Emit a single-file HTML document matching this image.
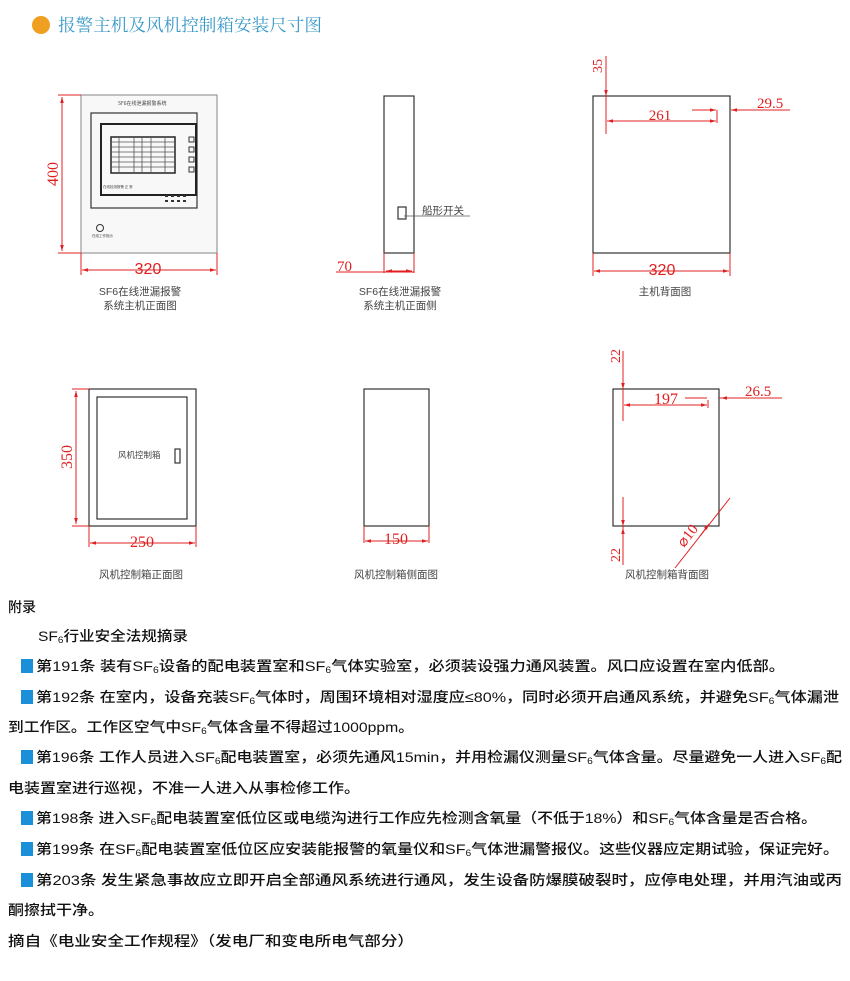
<!DOCTYPE html>
<html><head><meta charset="utf-8"><style>
html,body{margin:0;padding:0;background:#fff;width:850px;height:981px;overflow:hidden}
svg{display:block}
.t{font-family:"Liberation Sans Narrow","Liberation Sans","Noto Sans CJK SC",sans-serif;font-size:14px;fill:#111;font-weight:500}
.c{font-family:"Liberation Sans","Noto Sans CJK SC",sans-serif;font-size:10.5px;fill:#444}
.r{font-family:"Liberation Serif","Noto Serif CJK SC",serif;font-size:15px;fill:#e02020}
</style></head><body>
<svg width="850" height="981" viewBox="0 0 850 981" xmlns="http://www.w3.org/2000/svg">
<defs>
<marker id="a" viewBox="0 0 10 10" refX="10" refY="5" markerWidth="8" markerHeight="6" orient="auto-start-reverse"><path d="M0,2 L10,5 L0,8z" fill="#e02020"/></marker>
</defs>
<circle cx="41" cy="25" r="9" fill="#f0a020"/>
<text x="58" y="31" font-family="'Noto Serif CJK SC',serif" font-size="17" fill="#3a9ac8" textLength="264" lengthAdjust="spacingAndGlyphs">报警主机及风机控制箱安装尺寸图</text>

<g fill="none" stroke="#333" stroke-width="1.2">
<rect x="81" y="95" width="136" height="158" stroke="#999" fill="#f8f8f8"/>
<rect x="91" y="113" width="106" height="95" stroke="#333"/>
<rect x="101" y="124" width="95" height="71" stroke="#222" stroke-width="2"/>
<rect x="111" y="137" width="64" height="36" stroke="#222" stroke-width="1.5"/>
<path d="M111,142 H175 M111,147 H175 M111,152 H175 M111,157 H175 M111,162 H175 M111,167 H175 M119,137 V173 M134,137 V173 M142,137 V173 M151,137 V173 M165,137 V173" stroke="#555" stroke-width="0.8"/>
<rect x="189" y="137" width="5" height="5" stroke-width="1"/><rect x="189" y="147" width="5" height="5" stroke-width="1"/><rect x="189" y="157" width="5" height="5" stroke-width="1"/><rect x="189" y="167" width="5" height="5" stroke-width="1"/>
<circle cx="100" cy="228" r="3.5" stroke-width="1"/>
<rect x="384" y="96" width="30" height="157"/>
<rect x="398" y="207" width="8" height="12"/>
<path d="M404,216 H470" stroke="#555" stroke-width="0.8"/>
<rect x="593" y="96" width="137" height="157"/>
<rect x="89" y="389" width="107" height="137"/>
<rect x="97" y="397" width="90" height="122"/>
<rect x="175" y="449" width="5" height="14"/>
<rect x="364" y="389" width="65" height="137"/>
<rect x="613" y="389" width="106" height="137"/>
</g>
<g fill="#444" font-family="'Noto Sans CJK SC',sans-serif" font-size="5">
<text x="118" y="105">SF6在线泄漏报警系统</text>
<text x="103" y="188" font-size="3.5">在线检测报警 正 常</text>
<text x="92" y="237" font-size="3.5">在线工作指示</text>
</g>
<g fill="#333"><rect x="165" y="195" width="3" height="2"/><rect x="171" y="195" width="3" height="2"/><rect x="177" y="195" width="3" height="2"/><rect x="183" y="195" width="3" height="2"/><rect x="165" y="200" width="3" height="2"/><rect x="171" y="200" width="3" height="2"/><rect x="177" y="200" width="3" height="2"/><rect x="183" y="200" width="3" height="2"/></g>

<g stroke="#e02020" stroke-width="1" fill="none">
<path d="M81,95 H58 M81,253 H58"/>
<path d="M62,97 V251" marker-start="url(#a)" marker-end="url(#a)"/>
<path d="M81,253 V275 M217,253 V275"/>
<path d="M82,270 H216" marker-start="url(#a)" marker-end="url(#a)"/>
<path d="M384,253 V273 M414,253 V273 M336,272 H414"/>
<path d="M386,271 H412" marker-start="url(#a)" marker-end="url(#a)"/>
<path d="M606,56 V134"/>
<path d="M606,90 V96" marker-end="url(#a)"/>
<path d="M607,121 H716" marker-start="url(#a)" marker-end="url(#a)"/>
<path d="M717,110 V123 M692,110 H716 M735,110 H790"/>
<path d="M700,110 H716" marker-end="url(#a)"/>
<path d="M745,110 H731" marker-end="url(#a)"/>
<path d="M593,253 V276 M730,253 V276"/>
<path d="M594,271 H729" marker-start="url(#a)" marker-end="url(#a)"/>
<path d="M89,389 H72 M89,526 H72"/>
<path d="M76,391 V524" marker-start="url(#a)" marker-end="url(#a)"/>
<path d="M89,526 V547 M196,526 V547"/>
<path d="M90,543 H195" marker-start="url(#a)" marker-end="url(#a)"/>
<path d="M364,526 V543 M429,526 V543"/>
<path d="M365,541 H428" marker-start="url(#a)" marker-end="url(#a)"/>
<path d="M623,351 V421"/>
<path d="M623,380 V389" marker-end="url(#a)"/>
<path d="M624,405 H707" marker-start="url(#a)" marker-end="url(#a)"/>
<path d="M708,400 V408 M685,398 H707 M719,398 H782"/>
<path d="M735,398 H721" marker-end="url(#a)"/>
<path d="M623,497 V565"/>
<path d="M623,510 V526" marker-end="url(#a)"/>
<path d="M623,545 V528" marker-end="url(#a)"/>
<path d="M675,568 L730,498"/>
<path d="M700,536 L709,524" marker-end="url(#a)"/>
</g>
<g class="r">
<text x="148" y="274" text-anchor="middle" font-family="'Liberation Sans',sans-serif" font-size="16">320</text>
<text x="58" y="174" transform="rotate(-90 58 174)" text-anchor="middle" font-size="16">400</text>
<text x="337" y="271">70</text>
<text x="602" y="66" transform="rotate(-90 602 66)" text-anchor="middle" font-size="14">35</text>
<text x="660" y="120" text-anchor="middle">261</text>
<text x="757" y="108">29.5</text>
<text x="662" y="275" text-anchor="middle" font-family="'Liberation Sans',sans-serif" font-size="16">320</text>
<text x="72" y="457" transform="rotate(-90 72 457)" text-anchor="middle" font-size="16">350</text>
<text x="142" y="547" text-anchor="middle" font-size="16">250</text>
<text x="396" y="544" text-anchor="middle" font-size="16">150</text>
<text x="620" y="356" transform="rotate(-90 620 356)" text-anchor="middle" font-size="14">22</text>
<text x="666" y="404" text-anchor="middle" font-size="16">197</text>
<text x="745" y="396">26.5</text>
<text x="620" y="555" transform="rotate(-90 620 555)" text-anchor="middle" font-size="14">22</text>
<text x="684" y="548" transform="rotate(-52 684 548)" font-size="15">⌀10</text>
</g>
<g class="c">
<text x="140" y="295" text-anchor="middle">SF6在线泄漏报警</text>
<text x="140" y="309" text-anchor="middle">系统主机正面图</text>
<text x="400" y="295" text-anchor="middle">SF6在线泄漏报警</text>
<text x="400" y="309" text-anchor="middle">系统主机正面侧</text>
<text x="422" y="214">船形开关</text>
<text x="665" y="295" text-anchor="middle">主机背面图</text>
<text x="118" y="458" font-size="8.5">风机控制箱</text>
<text x="141" y="578" text-anchor="middle">风机控制箱正面图</text>
<text x="396" y="578" text-anchor="middle">风机控制箱侧面图</text>
<text x="667" y="578" text-anchor="middle">风机控制箱背面图</text>
</g>

<g fill="#1b8fd8">
<rect x="21" y="659" width="12" height="14"/>
<rect x="21" y="690" width="12" height="14"/>
<rect x="21" y="750" width="12" height="14"/>
<rect x="21" y="811" width="12" height="14"/>
<rect x="21" y="842" width="12" height="14"/>
<rect x="21" y="873" width="12" height="14"/>
</g>
<g class="t">
<text x="8" y="612">附录</text>
<text x="38" y="641" textLength="150" lengthAdjust="spacingAndGlyphs">SF<tspan font-size="9" dy="2">6</tspan><tspan dy="-2">行业安全法规摘录</tspan></text>
<text x="36" y="671" textLength="749" lengthAdjust="spacingAndGlyphs">第191条 装有SF<tspan font-size="9" dy="2">6</tspan><tspan dy="-2">设备的配电装置室和SF</tspan><tspan font-size="9" dy="2">6</tspan><tspan dy="-2">气体实验室，必须装设强力通风装置。风口应设置在室内低部。</tspan></text>
<text x="36" y="702" textLength="803" lengthAdjust="spacingAndGlyphs">第192条 在室内，设备充装SF<tspan font-size="9" dy="2">6</tspan><tspan dy="-2">气体时，周围环境相对湿度应≤80%，同时必须开启通风系统，并避免SF</tspan><tspan font-size="9" dy="2">6</tspan><tspan dy="-2">气体漏泄</tspan></text>
<text x="8" y="732" textLength="406" lengthAdjust="spacingAndGlyphs">到工作区。工作区空气中SF<tspan font-size="9" dy="2">6</tspan><tspan dy="-2">气体含量不得超过1000ppm。</tspan></text>
<text x="36" y="762" textLength="806" lengthAdjust="spacingAndGlyphs">第196条 工作人员进入SF<tspan font-size="9" dy="2">6</tspan><tspan dy="-2">配电装置室，必须先通风15min，并用检漏仪测量SF</tspan><tspan font-size="9" dy="2">6</tspan><tspan dy="-2">气体含量。尽量避免一人进入SF</tspan><tspan font-size="9" dy="2">6</tspan><tspan dy="-2">配</tspan></text>
<text x="8" y="793" textLength="352" lengthAdjust="spacingAndGlyphs">电装置室进行巡视，不准一人进入从事检修工作。</text>
<text x="36" y="823" textLength="781" lengthAdjust="spacingAndGlyphs">第198条 进入SF<tspan font-size="9" dy="2">6</tspan><tspan dy="-2">配电装置室低位区或电缆沟进行工作应先检测含氧量（不低于18%）和SF</tspan><tspan font-size="9" dy="2">6</tspan><tspan dy="-2">气体含量是否合格。</tspan></text>
<text x="36" y="854" textLength="803" lengthAdjust="spacingAndGlyphs">第199条 在SF<tspan font-size="9" dy="2">6</tspan><tspan dy="-2">配电装置室低位区应安装能报警的氧量仪和SF</tspan><tspan font-size="9" dy="2">6</tspan><tspan dy="-2">气体泄漏警报仪。这些仪器应定期试验，保证完好。</tspan></text>
<text x="36" y="885" textLength="806" lengthAdjust="spacingAndGlyphs">第203条  发生紧急事故应立即开启全部通风系统进行通风，发生设备防爆膜破裂时，应停电处理，并用汽油或丙</text>
<text x="8" y="915" textLength="96" lengthAdjust="spacingAndGlyphs">酮擦拭干净。</text>
<text x="8" y="946" textLength="406" lengthAdjust="spacingAndGlyphs">摘自《电业安全工作规程》（发电厂和变电所电气部分）</text>
</g>
</svg>
</body></html>
